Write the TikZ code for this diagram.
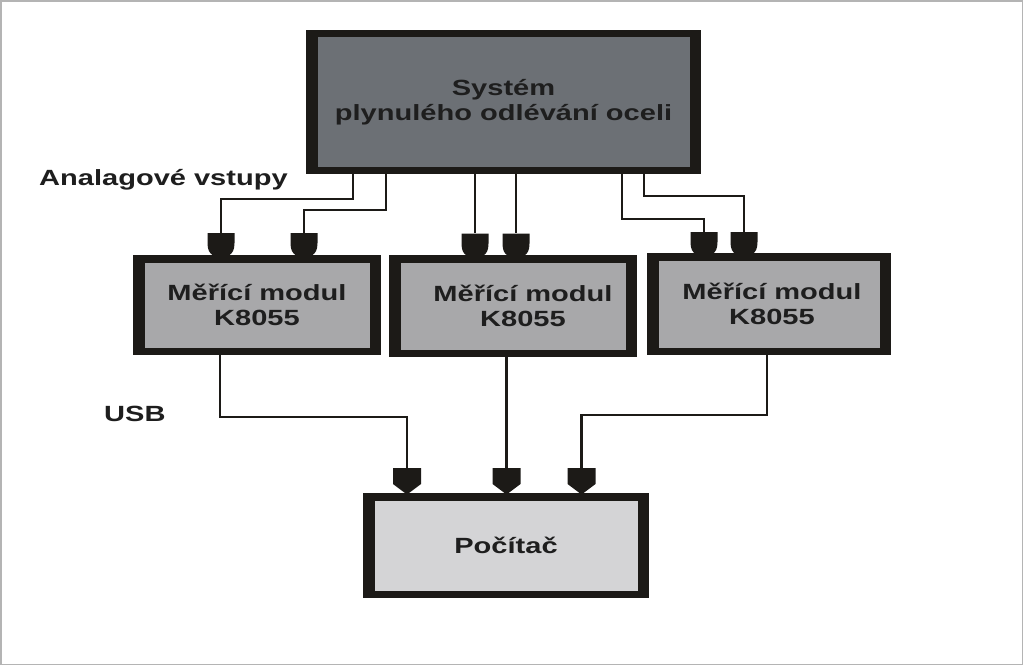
\documentclass[tikz,border=0pt]{standalone}
\usepackage{fontspec}
\setmainfont{Liberation Sans}[FakeStretch=1.32]
\definecolor{edge}{HTML}{1C1A17}
\definecolor{sysfill}{HTML}{6C7075}
\definecolor{modfill}{HTML}{A8A8AA}
\definecolor{pcfill}{HTML}{D4D4D6}
\definecolor{txt}{HTML}{1E1E1E}
\definecolor{frame}{HTML}{B4B4B4}
\begin{document}
\begin{tikzpicture}[x=1pt,y=-1pt,
  lab/.style={font=\bfseries\fontsize{22}{25}\selectfont, text=txt, inner sep=0pt},
  box/.style={fill=edge, inner sep=0pt, align=center,
    font=\bfseries\fontsize{22}{25}\selectfont, text=txt,
    path picture={\fill[#1] ([xshift=11.5pt,yshift=-7.5pt]path picture bounding box.north west)
      rectangle ([xshift=-11.5pt,yshift=7.5pt]path picture bounding box.south east);}},
  wire/.style={draw=edge, line width=2.8pt},
  topplug/.style={minimum width=27pt, minimum height=22pt, inner sep=0pt,
    path picture={\fill[edge] (path picture bounding box.north west)
      -- (path picture bounding box.north east)
      -- ([yshift=-10pt]path picture bounding box.north east)
      .. controls ([yshift=-17pt]path picture bounding box.north east) and ([xshift=-2pt,yshift=2pt]path picture bounding box.south east) ..
         ([xshift=-5pt]path picture bounding box.south east)
      -- ([xshift=5pt]path picture bounding box.south west)
      .. controls ([xshift=2pt,yshift=2pt]path picture bounding box.south west) and ([yshift=-17pt]path picture bounding box.north west) ..
         ([yshift=-10pt]path picture bounding box.north west) -- cycle;}},
  botplug/.style={minimum width=28pt, minimum height=25pt, inner sep=0pt,
    path picture={\fill[edge] (path picture bounding box.north west)
      -- (path picture bounding box.north east)
      -- ([yshift=-16pt]path picture bounding box.north east)
      -- ([xshift=2pt]path picture bounding box.south)
      -- ([xshift=-2pt]path picture bounding box.south)
      -- ([yshift=-16pt]path picture bounding box.north west) -- cycle;}}
]
\useasboundingbox (0,0) rectangle (1024,666);
\draw[frame, line width=1.6pt] (1,1) rectangle (1022.5,664.5);

% boxes
\node[box=sysfill, minimum width=395pt, minimum height=144pt] (sys) at (503.5,102)
  {Systém\\plynulého odlévání oceli};
\node[box=modfill, minimum width=248pt, minimum height=100pt] (m1) at (257,305)
  {Měřící modul\\K8055};
\node[box=modfill, minimum width=248pt, minimum height=102pt] (m2) at (513,306)
  {\hspace*{20pt}Měřící modul\\\hspace*{20pt}K8055};
\node[box=modfill, minimum width=244pt, minimum height=102pt] (m3) at (769,304)
  {\hspace*{6pt}Měřící modul\\\hspace*{6pt}K8055};
\node[box=pcfill, minimum width=286pt, minimum height=105pt] (pc) at (506,545.5)
  {Počítač};

% input plugs
\node[topplug] (p1) at (221,244) {};
\node[topplug] (p2) at (304,244) {};
\node[topplug] (p3) at (475,244.5) {};
\node[topplug] (p4) at (516,244.5) {};
\node[topplug] (p5) at (704,243) {};
\node[topplug] (p6) at (744,243) {};

% USB plugs
\node[botplug] (q1) at (407,480.5) {};
\node[botplug] (q2) at (506.5,480.5) {};
\node[botplug] (q3) at (581.5,480.5) {};

% labels
\node[lab, anchor=base west] (lin) at (39,185) {Analagové vstupy};
\node[lab, anchor=base west] (lusb) at (104,421) {USB};

% wires to modules
\draw[wire] (sys.south -| 353,0) |- (p1.north |- 0,199) -- (p1.north);
\draw[wire] (sys.south -| 386,0) |- (p2.north |- 0,210) -- (p2.north);
\draw[wire] (sys.south -| p3.north) -- (p3.north);
\draw[wire] (sys.south -| p4.north) -- (p4.north);
\draw[wire] (sys.south -| 622,0) |- (p5.north |- 0,219) -- (p5.north);
\draw[wire] (sys.south -| 644,0) |- (p6.north |- 0,196) -- (p6.north);

% USB wires
\draw[wire] (m1.south -| 220,0) |- (q1.north |- 0,417) -- (q1.north);
\draw[wire] (m2.south -| q2.north) -- (q2.north);
\draw[wire] (m3.south -| 767,0) |- (q3.north |- 0,415) -- (q3.north);
\end{tikzpicture}
\end{document}
